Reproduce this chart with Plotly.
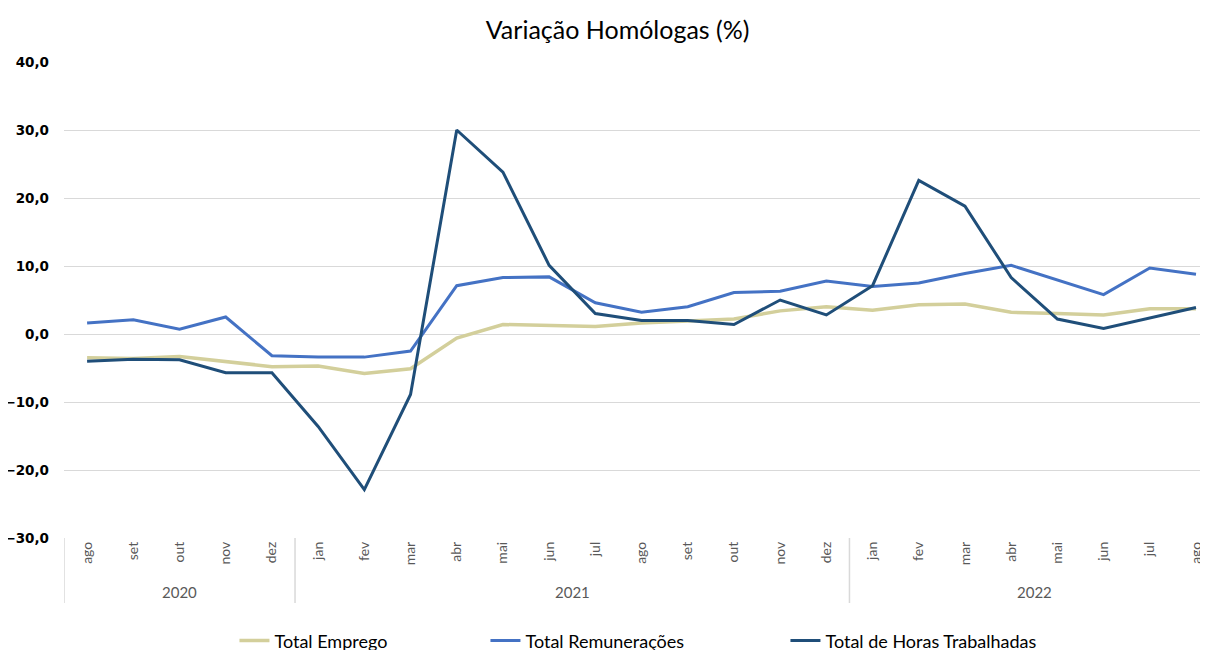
import plotly.graph_objects as go

years = ["2020"] * 5 + ["2021"] * 12 + ["2022"] * 8
months = ["ago", "set", "out", "nov", "dez",
          "jan", "fev", "mar", "abr", "mai", "jun", "jul", "ago", "set", "out", "nov", "dez",
          "jan", "fev", "mar", "abr", "mai", "jun", "jul", "ago"]

emprego = [-3.5, -3.6, -3.3, -4.1, -4.8,
           -4.7, -5.8, -5.1, -0.6, 1.4, 1.3, 1.1, 1.6, 1.9, 2.2, 3.4, 4.0,
           3.5, 4.3, 4.4, 3.2, 3.0, 2.8, 3.7, 3.7]
remuneracoes = [1.6, 2.1, 0.7, 2.5, -3.2,
                -3.4, -3.4, -2.5, 7.1, 8.3, 8.4, 4.6, 3.2, 4.0, 6.1, 6.3, 7.8,
                7.0, 7.5, 8.9, 10.1, 7.9, 5.8, 9.7, 8.8]
horas = [-4.0, -3.7, -3.8, -5.7, -5.7,
         -13.6, -22.9, -8.9, 30.0, 23.8, 10.1, 3.0, 2.0, 2.0, 1.4, 5.0, 2.8,
         7.1, 22.6, 18.8, 8.3, 2.2, 0.8, 2.4, 3.9]

xs = list(range(len(months)))
fig = go.Figure()
fig.add_trace(go.Scatter(x=xs, y=emprego, name="Total Emprego", mode="lines",
                         line=dict(color="#D3CF9B", width=3.5), legendwidth=206))
fig.add_trace(go.Scatter(x=xs, y=remuneracoes, name="Total Remunerações", mode="lines",
                         line=dict(color="#4472C4", width=3), legendwidth=255))
fig.add_trace(go.Scatter(x=xs, y=horas, name="Total de Horas Trabalhadas", mode="lines",
                         line=dict(color="#1F4E79", width=3), legendwidth=220))

# year group labels and dividers
groups = []
for i, yr in enumerate(years):
    if not groups or groups[-1][0] != yr:
        groups.append([yr, i, i])
    else:
        groups[-1][2] = i

div_bottom = -65 / 476
for yr, a, b in groups:
    fig.add_annotation(x=(a + b) / 2, y=-54 / 476, xref="x", yref="paper", text=yr,
                       showarrow=False, yanchor="middle",
                       font=dict(family="Lato, Open Sans, sans-serif", size=15, color="#595959"))
    fig.add_shape(type="line", xref="x", yref="paper", x0=a - 0.5, x1=a - 0.5,
                  y0=0, y1=div_bottom, line=dict(color="#D9D9D9", width=1.5))

# page has an 8px body margin: figure drawn at (8, 8); bottom overflows the window like the reference
fig.update_layout(
    width=1200, height=660,
    margin=dict(l=56, r=0, t=54, b=130),
    paper_bgcolor="white", plot_bgcolor="white",
    separators=",.",
    title=dict(text="Variação Homólogas (%)", x=0.508, xanchor="center", y=1 - 22 / 660, yanchor="middle",
               font=dict(family="Lato, Open Sans, sans-serif", size=25, color="#000000")),
    font=dict(family="Lato, Open Sans, sans-serif", color="#595959"),
    xaxis=dict(range=[-0.5, 24.26], tickmode="array", tickvals=xs, ticktext=months,
               tickangle=-90, automargin=False,
               showgrid=False, showline=False, ticks="", zeroline=False,
               tickfont=dict(family="Lato, Open Sans, sans-serif", size=14, color="#595959")),
    yaxis=dict(range=[-30, 40], dtick=10, tickformat=".1f", automargin=False,
               showgrid=True, gridcolor="#D9D9D9", gridwidth=1,
               zeroline=True, zerolinecolor="#D9D9D9", zerolinewidth=1,
               showline=False, ticks="", ticklabelstandoff=14,
               tickfont=dict(family="DejaVu Sans, Verdana, sans-serif", size=13.5, color="#000000", weight="bold")),
    legend=dict(orientation="h", x=0.149, xanchor="left", y=-0.216, yanchor="middle",
                font=dict(family="Lato, Open Sans, sans-serif", size=18, color="#000000")),
    showlegend=True,
)

fig.write_html("out.html")
